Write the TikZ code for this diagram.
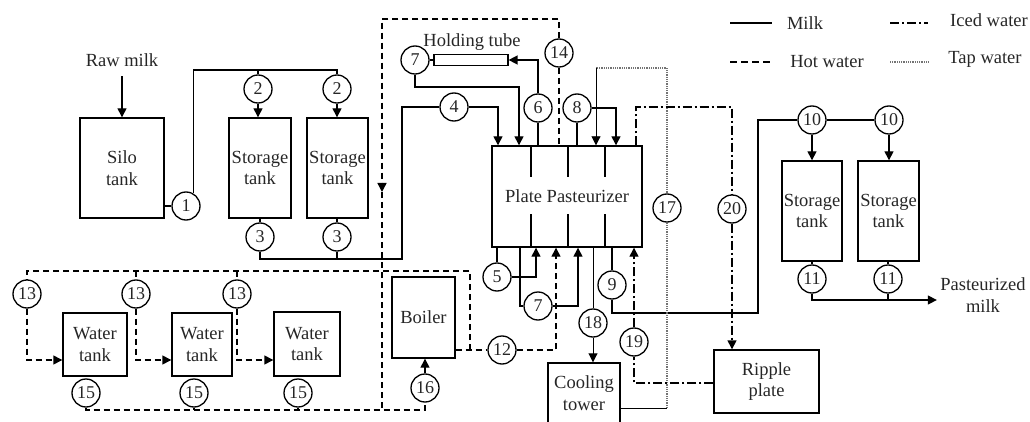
\documentclass[tikz,border=0pt]{standalone}
\usepackage{fontspec}
\setmainfont{Liberation Serif}
\usetikzlibrary{arrows.meta}
\begin{document}
\begin{tikzpicture}[x=1pt,y=-1pt,
  every node/.style={font=\fontsize{18.5}{21.5}\selectfont, text=black!85},
  box/.style={draw, line width=1.4pt, inner sep=0pt, align=center},
  num/.style={draw, circle, line width=1.3pt, minimum size=28pt, inner sep=0pt, font=\fontsize{18}{20}\selectfont},
  milk/.style={line width=1.4pt},
  hot/.style={line width=1.4pt, dash pattern=on 6pt off 4pt},
  iced/.style={line width=1.4pt, dash pattern=on 9pt off 3pt on 2pt off 3pt},
  tap/.style={line width=1.8pt, black!55, dash pattern=on 1pt off 0.8pt},
  tapthin/.style={line width=0.9pt},
  flow/.style={-{Triangle[length=9pt,width=9pt]}},
]
\useasboundingbox (0,0) rectangle (1030,422);

% ---------- boxes ----------
\node[box, minimum width=84pt, minimum height=100pt] (silo) at (122,168) {Silo\\tank};
\node[box, minimum width=62pt, minimum height=100pt] (st1) at (260,168) {Storage\\tank};
\node[box, minimum width=61pt, minimum height=100pt] (st2) at (337.5,168) {Storage\\tank};
\node[box, minimum width=150pt, minimum height=101pt] (past) at (567,196.5) {Plate Pasteurizer};
\node[box, line width=1.2pt, minimum width=74pt, minimum height=11pt] (ht) at (471,60) {};
\node[box, minimum width=60pt, minimum height=100pt] (st3) at (812,211) {Storage\\tank};
\node[box, minimum width=61pt, minimum height=100pt] (st4) at (888.5,211) {Storage\\tank};
\node[box, minimum width=64pt, minimum height=63pt] (wt1) at (95,344.5) {Water\\tank};
\node[box, minimum width=60pt, minimum height=63pt] (wt2) at (202,344.5) {Water\\tank};
\node[box, minimum width=66pt, minimum height=64pt] (wt3) at (307,344) {Water\\tank};
\node[box, minimum width=63pt, minimum height=81pt] (boiler) at (423.5,317.5) {Boiler};
\node[box, minimum width=72pt, minimum height=60pt] (cool) at (584,393) {Cooling\\tower};
\node[box, minimum width=105pt, minimum height=63pt] (ripple) at (766.5,381.5) {Ripple\\plate};

% ---------- texts ----------
\node (raw) at (122,60) {Raw milk};
\node (htl) at (472,42) {Holding tube};
\node[align=center] (pm) at (983,295) {Pasteurized\\milk};

% ---------- numbered circles ----------
\node[num] (c1) at (186,206) {1};
\node[num] (c2a) at (258,89) {2};
\node[num] (c2b) at (337,89) {2};
\node[num] (c3a) at (260,237) {3};
\node[num] (c3b) at (337,237) {3};
\node[num] (c4) at (454,107) {4};
\node[num] (c7a) at (415,60) {7};
\node[num] (c6) at (538,108) {6};
\node[num] (c14) at (559,53) {14};
\node[num] (c8) at (577,108) {8};
\node[num] (c17) at (667,208) {17};
\node[num] (c20) at (732,209) {20};
\node[num] (c10a) at (812,120) {10};
\node[num] (c10b) at (889,120) {10};
\node[num] (c11a) at (812,279) {11};
\node[num] (c11b) at (888,279) {11};
\node[num] (c5) at (497,277) {5};
\node[num] (c7b) at (538,306) {7};
\node[num] (c18) at (593,323) {18};
\node[num] (c9) at (612,285) {9};
\node[num] (c19) at (634,342) {19};
\node[num] (c12) at (502,350) {12};
\node[num] (c13a) at (27,294) {13};
\node[num] (c13b) at (136,294) {13};
\node[num] (c13c) at (237,294) {13};
\node[num] (c15a) at (86,393) {15};
\node[num] (c15b) at (194,393) {15};
\node[num] (c15c) at (298,393) {15};
\node[num] (c16) at (425,388) {16};

% ---------- pasteurizer plate dividers ----------
\foreach \x in {531,568,605}{
  \draw[milk] (\x,146) -- (\x,177);
  \draw[milk] (\x,214) -- (\x,247);
}

% ---------- helper coordinates ----------
\coordinate (j1) at (0,70);
\coordinate (j3) at (402,259);
\coordinate (p1) at (498,0);
\coordinate (p2) at (519,87);
\coordinate (p3) at (616,0);
\coordinate (b5r) at (536,0);
\coordinate (b7) at (520,0);
\coordinate (b7r) at (578,0);
\coordinate (j9) at (758,313);
\coordinate (j11) at (0,300);
\coordinate (h1) at (382,19);
\coordinate (harr) at (382,192);
\coordinate (h2) at (382,410);
\coordinate (h3) at (470,271);
\coordinate (h4) at (556,350);
\coordinate (h5) at (0,360);
\coordinate (t1) at (667,408);
\coordinate (t2) at (596,68);
\coordinate (i1) at (636,107);
\coordinate (i2) at (634,383);

% ---------- milk ----------
\draw[milk,flow,shorten <=6pt] (raw.south) -- (silo.north);
\draw[milk] (silo.east |- c1) -- (c1);
\draw[milk] (c1.60) -- (c1.60 |- j1) -- (j1 -| c2b) -- (c2b.north);
\draw[milk] (j1 -| c2a) -- (c2a.north);
\draw[milk,flow] (c2a.south) -- (c2a.south |- st1.north);
\draw[milk,flow] (c2b.south) -- (c2b.south |- st2.north);
\draw[milk] (st1.south -| c3a) -- (c3a.north);
\draw[milk] (st2.south -| c3b) -- (c3b.north);
\draw[milk] (c3a.south) |- (j3) |- (c4.west);
\draw[milk] (c3b.south) -- (c3b.south |- j3);
\draw[milk,flow] (c4.east) -| (p1 |- past.north);
\draw[milk] (c7a.east) -- (ht.west);
\draw[milk,flow] (c7a.south) |- (p2) -- (p2 |- past.north);
\draw[milk,flow] (c6.north) |- (ht.east);
\draw[milk] (c6.south) -- (c6.south |- past.north);
\draw[milk] (c8.south) -- (c8.south |- past.north);
\draw[milk,flow] (c8.east) -| (p3 |- past.north);
\draw[milk] (c5.north |- past.south) -- (c5.north);
\draw[milk,flow] (c5.east) -| (b5r |- past.south);
\draw[milk] (b7 |- past.south) |- (c7b.west);
\draw[milk,flow] (c7b.east) -| (b7r |- past.south);
\draw[milk] (c9.north |- past.south) -- (c9.north);
\draw[milk] (c9.south) |- (j9) |- (c10a.west);
\draw[milk] (c10a) -- (c10b);
\draw[milk,flow] (c10a.south) -- (c10a.south |- st3.north);
\draw[milk,flow] (c10b.south) -- (c10b.south |- st4.north);
\draw[milk] (st3.south -| c11a) -- (c11a.north);
\draw[milk] (st4.south -| c11b) -- (c11b.north);
\draw[milk,flow] (c11a.south) |- (pm.west |- j11);
\draw[milk] (c11b.south) -- (c11b.south |- j11);

% ---------- hot water ----------
\draw[hot] (c14.south) -- (c14.south |- past.north);
\draw[hot,flow] (c14.north) |- (h1) -- (harr);
\draw[hot] (harr) -- (h2);
\draw[hot] (c15a.south) -- (c15a.south |- h2) -- (c16.south |- h2) -- (c16.south);
\draw[hot] (c15b.south) -- (c15b.south |- h2);
\draw[hot] (c15c.south) -- (c15c.south |- h2);
\draw[hot,flow] (c16.north) -- (c16.north |- boiler.south);
\draw[hot] (boiler.east |- c12) -- (c12.west);
\draw[hot,flow] (c12.east) -| (h4 |- past.south);
\draw[hot] (h3 |- c12) -- (h3) -| (c13a.north);
\draw[hot] (h3 -| c13b) -- (c13b.north);
\draw[hot] (h3 -| c13c) -- (c13c.north);
\draw[hot,flow] (c13a.south) |- (wt1.west |- h5);
\draw[hot,flow] (c13b.south) |- (wt2.west |- h5);
\draw[hot,flow] (c13c.south) |- (wt3.west |- h5);

% ---------- tap water ----------
\draw[tapthin] (c18.north |- past.south) -- (c18.north);
\draw[tapthin,flow] (c18.south) -- (c18.south |- cool.north);
\draw[tapthin] (cool.east |- t1) -- (t1);
\draw[tap] (t1) -- (c17.south);
\draw[tap] (c17.north) |- (t2);
\draw[tapthin,flow] (t2) -- (t2 |- past.north);

% ---------- iced water ----------
\draw[iced] (i1 |- past.north) -- (i1) -| (c20.north);
\draw[iced,flow] (c20.south) -- (c20.south |- ripple.north);
\draw[iced] (ripple.west |- i2) -- (i2) -- (c19.south);
\draw[iced,flow] (c19.north) -- (c19.north |- past.south);

% ---------- legend ----------
\coordinate (lg1a) at (730,23); \coordinate (lg1b) at (772,23);
\coordinate (lg2a) at (730,62); \coordinate (lg2b) at (772,62);
\coordinate (lg3a) at (890,23); \coordinate (lg3b) at (928,23);
\coordinate (lg4a) at (890,62); \coordinate (lg4b) at (928,62);
\draw[milk] (lg1a) -- (lg1b);
\draw[hot, dash pattern=on 7pt off 4pt] (lg2a) -- (lg2b);
\draw[iced] (lg3a) -- (lg3b);
\draw[tap] (lg4a) -- (lg4b);
\node (lgmilk) at (805,23) {Milk};
\node (lghot) at (827,62) {Hot water};
\node (lgiced) at (989,20) {Iced water};
\node (lgtap) at (985,59) {Tap water};
\end{tikzpicture}
\end{document}
